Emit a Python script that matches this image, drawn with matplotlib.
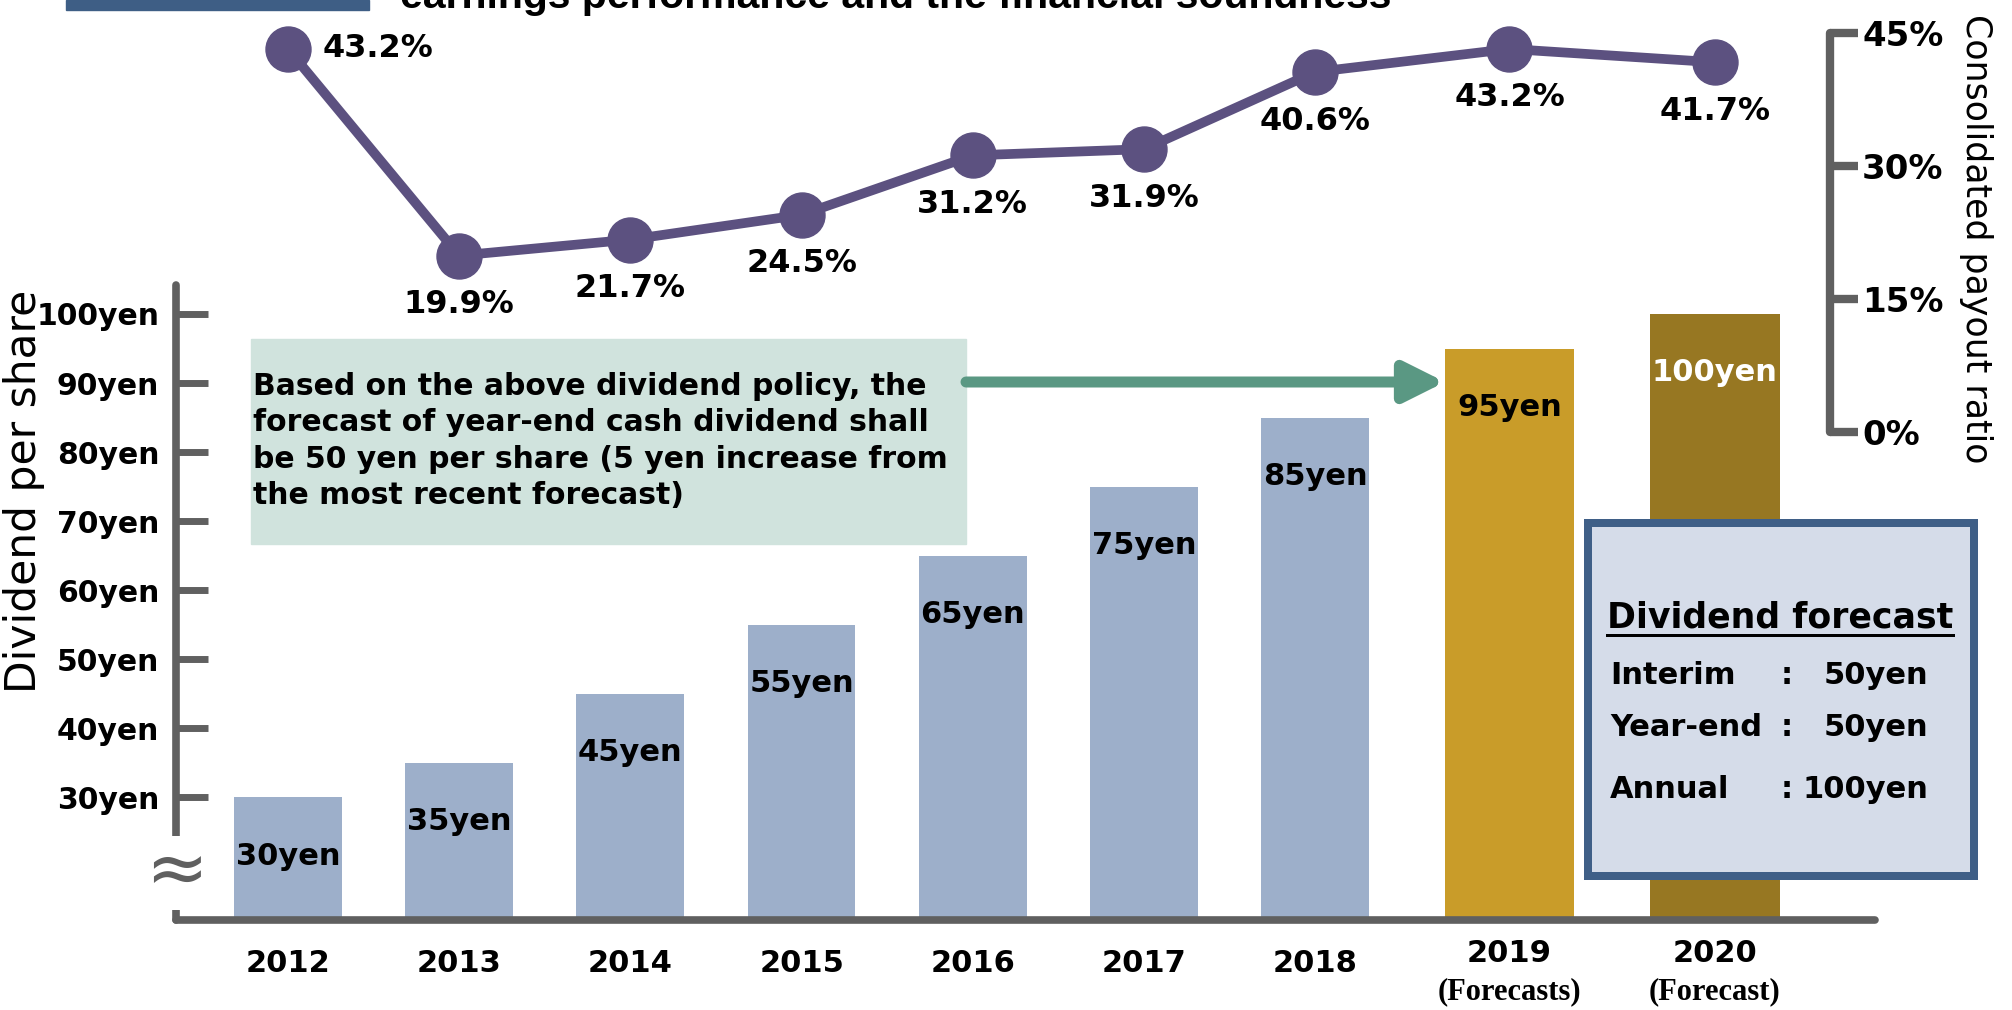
import numpy as np
import matplotlib
matplotlib.use('Agg')
import matplotlib.pyplot as plt
from matplotlib.patches import Rectangle, FancyArrowPatch
from matplotlib.lines import Line2D

# data
years = ['2012', '2013', '2014', '2015', '2016', '2017', '2018', '2019', '2020']
year_notes = ['', '', '', '', '', '', '', '(Forecasts)', '(Forecast)']
dividend = [30, 35, 45, 55, 65, 75, 85, 95, 100]
payout = [43.2, 19.9, 21.7, 24.5, 31.2, 31.9, 40.6, 43.2, 41.7]
yen_ticks = [30, 40, 50, 60, 70, 80, 90, 100]
pct_ticks = [0, 15, 30, 45]

# layout (forecast columns sit a little further right and are wider)
slot_shift = [0, 0, 0, 0, 0, 0, 0, 0.135, 0.335]
bar_width = [0.63] * 7 + [0.755, 0.755]
bar_colours = ['#9dafca'] * 7 + ['#c99c29', '#977722']
label_colours = ['black'] * 8 + ['white']

W, H = 2012, 1010
grey = '#606060'
purple = '#5c5180'


def fig_rect(l, t, r, b):
    # pixel box (from top-left) -> figure fraction rect
    return [l / W, 1 - b / H, (r - l) / W, (b - t) / H]


def fx(x):
    return x / W


def fy(y):
    return 1 - y / H


pt = 72 / 100  # pixels -> points

plt.rcParams['font.family'] = 'DejaVu Sans'
fig = plt.figure(figsize=(W / 100, H / 100), dpi=100)

xpos = np.arange(len(years)) + np.array(slot_shift)

# ---------------- bar chart (dividend per share) ----------------
ax = fig.add_axes(fig_rect(176, 285, 1875, 920))
ax.bar(xpos, dividend, width=bar_width, color=bar_colours, zorder=2)
ax.set_xlim(-0.654, 9.27)
ax.set_ylim(12.2, 104.2)

for s in ['top', 'right']:
    ax.spines[s].set_visible(False)
for s in ['left', 'bottom']:
    ax.spines[s].set_color(grey)
    ax.spines[s].set_linewidth(5.5)
    ax.spines[s].set_capstyle('round')

ax.set_yticks(yen_ticks, [f'{v}yen' for v in yen_ticks])
ax.tick_params(axis='y', direction='in', length=32 * pt, width=5, color=grey,
               pad=12, labelsize=21.5)
for lab in ax.get_yticklabels():
    lab.set_fontweight('bold')
ax.set_xticks([])

ax.set_ylabel('Dividend per share', fontsize=30.5, va='center')
ax.yaxis.set_label_coords(-0.0895, 0.675)

# value labels inside the bars
for x, v, c in zip(xpos, dividend, label_colours):
    ax.annotate(f'{v}yen', xy=(x, v), xytext=(0, -59 * pt), textcoords='offset points',
                ha='center', va='center', fontsize=22, fontweight='bold', color=c, zorder=3)

# year labels
for x, y, note in zip(xpos, years, year_notes):
    if note:
        ax.annotate(y, xy=(x, 0), xycoords=('data', 'axes fraction'), xytext=(0, -33 * pt),
                    textcoords='offset points', ha='center', va='center',
                    fontsize=22, fontweight='bold', annotation_clip=False)
        ax.annotate(note, xy=(x, 0), xycoords=('data', 'axes fraction'), xytext=(0, -72 * pt),
                    textcoords='offset points', ha='center', va='center',
                    fontsize=22, family='Liberation Serif', fontweight='bold',
                    annotation_clip=False)
    else:
        ax.annotate(y, xy=(x, 0), xycoords=('data', 'axes fraction'), xytext=(0, -43 * pt),
                    textcoords='offset points', ha='center', va='center',
                    fontsize=22, fontweight='bold', annotation_clip=False)

# axis break mark
ax.text(0, 0.074, '\u2248', transform=ax.transAxes, fontsize=54, color=grey,
        ha='center', va='center', zorder=5, clip_on=False,
        bbox=dict(facecolor='white', edgecolor='none', pad=0.5))

# ---------------- line chart (payout ratio) ----------------
ax2 = fig.add_axes(fig_rect(176, 33, 1875, 432))
ax2.patch.set_visible(False)
ax2.set_xlim(ax.get_xlim())
ax2.set_ylim(0, 45)
ax2.plot(xpos, payout, color=purple, lw=7, marker='o', markersize=45 * pt,
         clip_on=False, zorder=3)

for s in ['top', 'left', 'bottom']:
    ax2.spines[s].set_visible(False)
ax2.spines['right'].set_position(('axes', (1830 - 176) / 1699))
ax2.spines['right'].set_bounds(0, 45)
ax2.spines['right'].set_color(grey)
ax2.spines['right'].set_linewidth(6)
ax2.spines['right'].set_capstyle('round')
ax2.set_xticks([])
ax2.yaxis.tick_right()
ax2.set_yticks(pct_ticks, [f'{v}%' for v in pct_ticks])
ax2.tick_params(axis='y', direction='out', length=28 * pt, width=6, color=grey,
                pad=3, labelsize=24.5)
for lab in ax2.get_yticklabels():
    lab.set_fontweight('bold')
ax2.yaxis.set_label_position('right')
ax2.set_ylabel('Consolidated payout ratio', fontsize=25, rotation=270, va='center')
ax2.yaxis.set_label_coords(1.0594, 0.484)

for i, (x, v) in enumerate(zip(xpos, payout)):
    if i == 0:
        ax2.annotate(f'{v}%', xy=(x, v), xytext=(35 * pt, 0), textcoords='offset points',
                     ha='left', va='center', fontsize=23, fontweight='bold')
    else:
        ax2.annotate(f'{v}%', xy=(x, v), xytext=(0, -49 * pt), textcoords='offset points',
                     ha='center', va='center', fontsize=23, fontweight='bold')

# ---------------- annotations ----------------
# cut-off heading at the very top
fig.add_artist(Rectangle((fx(66), fy(10)), (369 - 66) / W, 10 / H,
                         transform=fig.transFigure, color='#3e5e85'))
fig.text(fx(400), fy(8), 'earnings performance and the financial soundness',
         fontsize=29.5, fontweight='bold', family='Liberation Sans', va='baseline')

# policy note box + arrow
fig.add_artist(Rectangle((fx(251), fy(544)), (966 - 251) / W, (544 - 339) / H,
                         transform=fig.transFigure, color='#d0e3dd', zorder=1))
note = ('Based on the above dividend policy, the\n'
        'forecast of year-end cash dividend shall\n'
        'be 50 yen per share (5 yen increase from\n'
        'the most recent forecast)')
fig.text(fx(253), fy(372), note, fontsize=21.5, fontweight='bold', va='top',
         linespacing=1.32, zorder=2)

arrow = FancyArrowPatch((fx(966), fy(382)), (fx(1445), fy(382)),
                        transform=fig.transFigure,
                        arrowstyle='-|>,head_length=24,head_width=12',
                        mutation_scale=1, lw=11 * pt, color='#5a9883',
                        shrinkA=0, shrinkB=0, zorder=2)
fig.add_artist(arrow)

# dividend forecast box
fig.add_artist(Rectangle((fx(1588), fy(876)), (1974 - 1588) / W, (876 - 523) / H,
                         transform=fig.transFigure, facecolor='#d5dce9',
                         edgecolor='#3f5f87', lw=8 * pt, zorder=3))
title = fig.text(fx(1607), fy(628), 'Dividend forecast', fontsize=25,
                 fontweight='bold', va='baseline', zorder=4)
fig.canvas.draw()
bb = title.get_window_extent()
fig.add_artist(Line2D([bb.x0 / W, bb.x1 / W], [fy(635), fy(635)],
                      transform=fig.transFigure, color='black', lw=3 * pt, zorder=4))

rows = [('Interim', '50yen', 675), ('Year-end', '50yen', 728), ('Annual', '100yen', 790)]
for name, val, y in rows:
    fig.text(fx(1610), fy(y), name, fontsize=22, fontweight='bold', va='center', zorder=4)
    fig.text(fx(1787), fy(y), ':', fontsize=22, fontweight='bold', va='center',
             ha='center', zorder=4)
    fig.text(fx(1928), fy(y), val, fontsize=22, fontweight='bold', va='center',
             ha='right', zorder=4)

fig.savefig('out.png', dpi=100)
